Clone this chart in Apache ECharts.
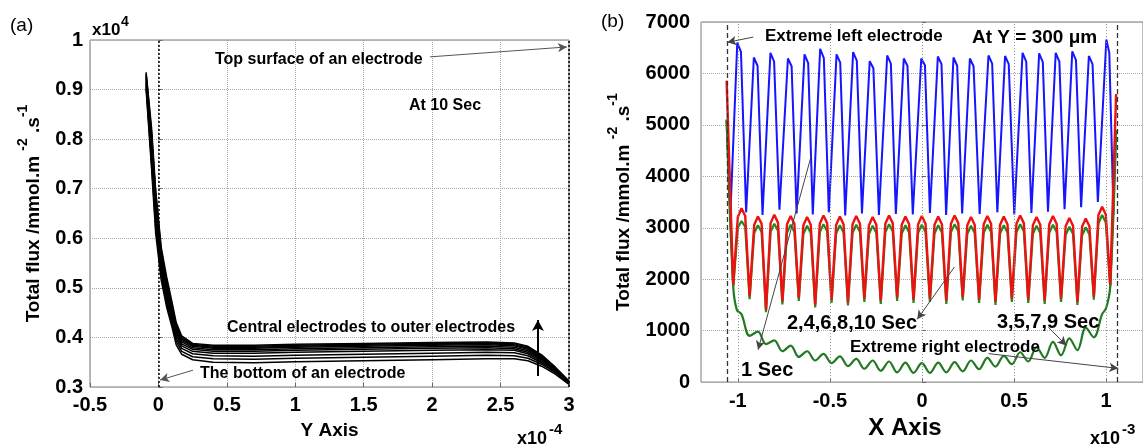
<!DOCTYPE html>
<html>
<head>
<meta charset="utf-8">
<title>Total flux</title>
<script src="https://cdn.jsdelivr.net/npm/echarts@6/dist/echarts.min.js"></script>
<style>
  html, body { margin: 0; padding: 0; background: #fff; }
  #chart { width: 1143px; height: 445px; }
</style>
</head>
<body>
<div id="chart"></div>
<script>
// ---------- Panel (a): total flux along Y (x1e-4 m) at 10 s, one curve per electrode ----------
const yPosition = [-0.09, -0.05, -0.02, 0.02, 0.06, 0.10, 0.13, 0.17, 0.25, 0.40, 0.70, 1.00, 1.50, 2.00, 2.40, 2.60, 2.70, 2.80, 2.90, 3.00];

// flux in units of 1e4 mmol m^-2 s^-1, central electrode first, outer electrodes last
const electrodeFlux01 = [0.900, 0.740, 0.610, 0.516, 0.461, 0.420, 0.385, 0.366, 0.355, 0.350, 0.349, 0.351, 0.353, 0.355, 0.357, 0.357, 0.353, 0.342, 0.326, 0.305];
const electrodeFlux02 = [0.905, 0.750, 0.622, 0.525, 0.468, 0.426, 0.392, 0.372, 0.361, 0.357, 0.356, 0.358, 0.360, 0.362, 0.364, 0.363, 0.358, 0.346, 0.329, 0.306];
const electrodeFlux03 = [0.910, 0.760, 0.634, 0.534, 0.475, 0.432, 0.398, 0.378, 0.367, 0.363, 0.362, 0.364, 0.366, 0.368, 0.370, 0.369, 0.363, 0.349, 0.331, 0.307];
const electrodeFlux04 = [0.914, 0.770, 0.645, 0.543, 0.482, 0.438, 0.404, 0.383, 0.372, 0.368, 0.368, 0.370, 0.372, 0.374, 0.375, 0.374, 0.367, 0.352, 0.333, 0.308];
const electrodeFlux05 = [0.918, 0.779, 0.655, 0.551, 0.488, 0.443, 0.409, 0.387, 0.376, 0.372, 0.372, 0.374, 0.376, 0.378, 0.379, 0.377, 0.370, 0.355, 0.334, 0.309];
const electrodeFlux06 = [0.922, 0.788, 0.665, 0.559, 0.494, 0.448, 0.413, 0.391, 0.379, 0.375, 0.375, 0.377, 0.379, 0.381, 0.382, 0.380, 0.373, 0.357, 0.336, 0.309];
const electrodeFlux07 = [0.926, 0.797, 0.674, 0.566, 0.500, 0.453, 0.417, 0.394, 0.382, 0.378, 0.378, 0.380, 0.382, 0.384, 0.385, 0.383, 0.376, 0.359, 0.337, 0.310];
const electrodeFlux08 = [0.929, 0.805, 0.682, 0.572, 0.508, 0.458, 0.421, 0.397, 0.384, 0.380, 0.380, 0.382, 0.384, 0.386, 0.387, 0.385, 0.378, 0.361, 0.338, 0.310];
const electrodeFlux09 = [0.932, 0.813, 0.690, 0.577, 0.515, 0.464, 0.425, 0.400, 0.386, 0.382, 0.382, 0.384, 0.386, 0.388, 0.389, 0.387, 0.380, 0.363, 0.339, 0.311];
const electrodeFlux10 = [0.935, 0.822, 0.697, 0.582, 0.522, 0.470, 0.430, 0.403, 0.388, 0.384, 0.384, 0.386, 0.388, 0.390, 0.391, 0.389, 0.382, 0.365, 0.340, 0.312];

// ---------- Panel (b): total flux along X (x1e-3 m) at Y = 300 um ----------
const xTicksB = [-1, -0.5, 0, 0.5, 1];
const electrodeEdgesB = [-1.063, 1.064];

// 1 s
const xBlue = [-1.060, -1.040,
  -1.003, -0.983, -0.955,  -0.913, -0.893, -0.866,  -0.823, -0.803, -0.774,  -0.728, -0.708, -0.681,
  -0.638, -0.618, -0.593,  -0.553, -0.533, -0.506,  -0.464, -0.444, -0.417,  -0.374, -0.354, -0.326,
  -0.284, -0.264, -0.234,  -0.189, -0.169, -0.142,  -0.099, -0.079, -0.050,  -0.004, 0.016, 0.043,
  0.086, 0.106, 0.131,  0.171, 0.191, 0.218,  0.260, 0.280, 0.313,  0.361, 0.381, 0.409,
  0.451, 0.471, 0.501,  0.546, 0.566, 0.594,  0.636, 0.656, 0.684,  0.726, 0.746, 0.774,
  0.816, 0.836, 0.864,  0.906, 0.926, 0.955,  1.001, 1.017, 1.040];
const flux1s = [5100, 3300,
  6600, 6420, 3300,  6310, 6150, 3250,  6400, 6230, 3350,  6290, 6140, 3280,
  6370, 6200, 3260,  6480, 6300, 3300,  6370, 6210, 3240,  6415, 6250, 3280,
  6240, 6100, 3250,  6350, 6190, 3270,  6290, 6150, 3260,  6290, 6160, 3290,
  6330, 6180, 3250,  6310, 6150, 3280,  6290, 6140, 3270,  6350, 6190, 3300,
  6340, 6180, 3260,  6400, 6230, 3290,  6390, 6220, 3310,  6400, 6230, 3360,
  6430, 6260, 3400,  6340, 6180, 3500,  6660, 6400, 3250];

// 2,4,6,8,10 s (red) and the upper odd-second trace (green) share sample positions
const xEvenOdd = [-1.061, -1.025,
  -1.000, -0.980, -0.960, -0.936,  -0.911, -0.891, -0.871, -0.847,  -0.822, -0.802, -0.782, -0.758,
  -0.733, -0.713, -0.693, -0.669,  -0.644, -0.624, -0.604, -0.580,  -0.555, -0.535, -0.515, -0.491,
  -0.466, -0.446, -0.426, -0.402,  -0.377, -0.357, -0.337, -0.313,  -0.288, -0.268, -0.248, -0.224,
  -0.199, -0.179, -0.159, -0.135,  -0.110, -0.090, -0.070, -0.046,  -0.021, -0.001, 0.019, 0.043,
  0.068, 0.088, 0.108, 0.132,  0.157, 0.177, 0.197, 0.221,  0.246, 0.266, 0.286, 0.310,
  0.335, 0.355, 0.375, 0.399,  0.424, 0.444, 0.464, 0.488,  0.513, 0.533, 0.553, 0.577,
  0.602, 0.622, 0.642, 0.666,  0.691, 0.711, 0.731, 0.755,  0.780, 0.800, 0.820, 0.844,
  0.869, 0.889, 0.909, 0.933,  0.958, 0.978, 0.998, 1.022,  1.054];
const fluxEven = [5860, 1890,
  3210, 3380, 3230, 1665,  3060, 3220, 3080, 1410,  3090, 3255, 3100, 1570,
  3070, 3230, 3080, 1635,  3050, 3210, 3060, 1505,  3080, 3240, 3090, 1600,
  3060, 3220, 3070, 1550,  3070, 3230, 3080, 1620,  3050, 3210, 3060, 1580,
  3080, 3240, 3090, 1640,  3060, 3220, 3070, 1600,  3070, 3230, 3080, 1620,
  3060, 3220, 3070, 1580,  3080, 3240, 3090, 1650,  3050, 3210, 3060, 1600,
  3070, 3230, 3080, 1560,  3060, 3220, 3070, 1620,  3080, 3240, 3090, 1600,
  3050, 3210, 3060, 1580,  3070, 3230, 3080, 1620,  3030, 3190, 3040, 1560,
  3020, 3180, 3030, 1660,  3250, 3410, 3260, 1890,  5600];
const fluxOddUpper = [5100, 1850,
  3000, 3130, 3020, 1610,  2900, 3050, 2920, 1360,  2920, 3080, 2940, 1510,
  2900, 3060, 2920, 1580,  2880, 3040, 2900, 1450,  2910, 3070, 2930, 1540,
  2890, 3050, 2910, 1490,  2900, 3060, 2920, 1560,  2880, 3040, 2900, 1520,
  2910, 3070, 2930, 1580,  2890, 3050, 2910, 1540,  2900, 3060, 2920, 1560,
  2890, 3050, 2910, 1520,  2910, 3070, 2930, 1590,  2880, 3040, 2900, 1540,
  2900, 3060, 2920, 1500,  2890, 3050, 2910, 1560,  2910, 3070, 2930, 1540,
  2880, 3040, 2900, 1520,  2900, 3060, 2920, 1560,  2860, 3020, 2880, 1500,
  2850, 3010, 2870, 1600,  3080, 3250, 3100, 1855,  4900];

// 3,5,7,9 s (lower wavy green trace)
const xOddLower = [-1.061, -1.025, -1.005, -0.980,
  -0.936, -0.891, -0.847, -0.802, -0.758, -0.713, -0.669, -0.624, -0.580, -0.535,
  -0.491, -0.446, -0.402, -0.357, -0.313, -0.268, -0.224, -0.179, -0.135, -0.090,
  -0.046, -0.001, 0.043, 0.088, 0.132, 0.177, 0.221, 0.266, 0.310, 0.355,
  0.399, 0.444, 0.488, 0.533, 0.577, 0.622, 0.666, 0.711, 0.755, 0.800,
  0.844, 0.889, 0.933, 0.978, 1.000, 1.022, 1.054];
const fluxOddLower = [5100, 1850, 1400, 1320,
  900, 980, 740, 810, 600, 710, 490, 600, 420, 550,
  370, 500, 310, 450, 260, 420, 220, 400, 190, 380,
  180, 370, 180, 380, 190, 390, 210, 420, 250, 470,
  300, 510, 350, 580, 400, 680, 470, 780, 520, 850,
  620, 1060, 870, 1320, 1440, 1855, 4900];

// ---------- helpers ----------
const FONT = "'Liberation Sans', Arial, Helvetica, sans-serif";
const pairs = (xs, ys) => xs.map((x, i) => [x, ys[i]]);

const fluxNameRich = {
  b: { fontFamily: FONT, fontWeight: 'bold', fontSize: 19, lineHeight: 27, verticalAlign: 'bottom', color: '#000' },
  s: { fontFamily: FONT, fontWeight: 'bold', fontSize: 14, lineHeight: 14, verticalAlign: 'top', color: '#000' }
};
const fluxName = '{b|Total flux /mmol.m }{s|-2}{b| .s}{s|-1}';

const GRID_LINE_STYLE = { color: '#a8a8a8', type: 'dotted', width: 1 };
const X_GRID_LINE_STYLE = { color: '#8c8c8c', type: [1, 2], width: 1 };
const EDGE_LINE_STYLE = { color: '#333', width: 1.3, type: [5, 3] };
const gridLine = () => ({ show: true, lineStyle: Object.assign({}, GRID_LINE_STYLE) });
const tickStyle = () => ({ show: true, inside: true, length: 4, lineStyle: { color: '#666', width: 1 } });
const tickLabel = (margin) => ({ fontFamily: FONT, fontWeight: 'bold', fontSize: 20, color: '#000', margin });

const arrowLine = (from, to, color, width) => [
  { coord: from, lineStyle: { color, width, type: 'solid' } },
  { coord: to }
];

const curvesA = [electrodeFlux01, electrodeFlux02, electrodeFlux03, electrodeFlux04, electrodeFlux05,
                 electrodeFlux06, electrodeFlux07, electrodeFlux08, electrodeFlux09, electrodeFlux10];

const seriesA = curvesA.map((vals, i) => {
  const s = {
    type: 'line', xAxisIndex: 0, yAxisIndex: 0,
    data: pairs(yPosition, vals),
    symbol: 'none', silent: true,
    lineStyle: { color: '#000', width: 1.5 },
    z: 3
  };
  if (i === 0) {
    s.markLine = {
      silent: true, symbol: 'none', label: { show: false },
      lineStyle: { color: '#000', width: 1.5, type: [2, 2] },
      data: [{ xAxis: 0 }, { xAxis: 3 }]
    };
  }
  if (i === 1) {
    s.markLine = {
      silent: true, symbol: ['none', 'arrow'], symbolSize: [7, 9], label: { show: false },
      lineStyle: { color: '#555', width: 1, type: 'solid' },
      data: [
        arrowLine([1.985, 0.966], [2.985, 0.986], '#555', 1),
        arrowLine([0.253, 0.334], [0.012, 0.314], '#555', 1)
      ]
    };
  }
  if (i === 2) {
    s.markLine = {
      silent: true, symbol: ['none', 'arrow'], symbolSize: [9, 11], label: { show: false },
      lineStyle: { color: '#000', width: 2, type: 'solid' },
      data: [arrowLine([2.773, 0.322], [2.773, 0.435], '#000', 2)]
    };
  }
  return s;
});

const seriesB = [
  {
    name: '1 Sec', type: 'line', xAxisIndex: 1, yAxisIndex: 1,
    data: pairs(xBlue, flux1s), symbol: 'none', silent: true,
    lineStyle: { color: '#1515ff', width: 2 }, z: 3,
    markLine: {
      silent: true, symbol: 'none', label: { show: false },
      data: xTicksB.map((v) => ({ xAxis: v, lineStyle: Object.assign({}, X_GRID_LINE_STYLE) }))
        .concat(electrodeEdgesB.map((v) => ({ xAxis: v, lineStyle: Object.assign({}, EDGE_LINE_STYLE) })))
    }
  },
  {
    name: '3,5,7,9 Sec lower', type: 'line', xAxisIndex: 1, yAxisIndex: 1,
    data: pairs(xOddLower, fluxOddLower), symbol: 'none', silent: true, smooth: 0.35,
    lineStyle: { color: '#217a21', width: 2.2 }, z: 3,
    markLine: {
      silent: true, symbol: ['none', 'arrow'], symbolSize: [7, 9], label: { show: false },
      lineStyle: { color: '#444', width: 1, type: 'solid' },
      data: [
        arrowLine([-0.916, 6707], [-1.057, 6604], '#444', 1),
        arrowLine([-0.599, 4430], [-0.890, 629], '#444', 1),
        arrowLine([0.176, 2237], [-0.026, 1220], '#444', 1),
        arrowLine([0.687, 1062], [0.784, 711], '#444', 1),
        arrowLine([0.361, 553], [1.066, 267], '#444', 1)
      ]
    }
  },
  {
    name: '3,5,7,9 Sec upper', type: 'line', xAxisIndex: 1, yAxisIndex: 1,
    data: pairs(xEvenOdd, fluxOddUpper), symbol: 'none', silent: true,
    lineStyle: { color: '#1f8c1f', width: 2.2 }, z: 3
  },
  {
    name: '2,4,6,8,10 Sec', type: 'line', xAxisIndex: 1, yAxisIndex: 1,
    data: pairs(xEvenOdd, fluxEven), symbol: 'none', silent: true,
    lineStyle: { color: '#ee1111', width: 2.4 }, z: 3
  }
];

// annotation text
const txt = (text, x, y, size, weight) => ({
  type: 'text', x, y, silent: true, z: 10,
  style: {
    text, fill: '#000', align: 'left', verticalAlign: 'middle',
    font: (weight || 'bold') + ' ' + size + 'px ' + FONT
  }
});

const graphics = [
  txt('(a)', 10, 26, 19, 'normal'),
  txt('(b)', 601, 22, 19, 'normal'),
  txt('x10', 92, 30, 17), txt('4', 121, 22, 14),
  txt('x10', 517, 439, 18), txt('-4', 549, 430, 15),
  txt('x10', 1090, 439, 18), txt('-3', 1122, 430, 15),
  txt('Top surface of an electrode', 215, 60, 16),
  txt('At 10 Sec', 409, 106, 16),
  txt('Central electrodes to outer electrodes', 227, 328, 16),
  txt('The bottom of an electrode', 200, 374, 16),
  txt('Extreme left electrode', 765, 36, 17),
  txt('At Y = 300 \u03bcm', 972, 38, 19),
  txt('1 Sec', 741, 370, 20),
  txt('2,4,6,8,10 Sec', 787, 323, 20),
  txt('3,5,7,9 Sec', 997, 322, 20),
  txt('Extreme right electrode', 850, 347, 17)
];

const option = {
  animation: false,
  backgroundColor: '#fff',
  grid: [
    { left: 90, top: 40, width: 479, height: 347, show: true, borderColor: '#7a7a7a', borderWidth: 1, backgroundColor: 'rgba(0,0,0,0)', z: 0 },
    { left: 701, top: 22, width: 454, height: 367, show: true, borderColor: '#7a7a7a', borderWidth: 1, backgroundColor: 'rgba(0,0,0,0)', z: 0 }
  ],
  xAxis: [
    {
      gridIndex: 0, type: 'value', min: -0.5, max: 3, interval: 0.5, z: 2,
      name: 'Y Axis', nameLocation: 'middle', nameGap: 34,
      nameTextStyle: { fontFamily: FONT, fontWeight: 'bold', fontSize: 19, color: '#000' },
      axisLine: { show: false }, axisTick: tickStyle(),
      axisLabel: tickLabel(8), splitLine: gridLine()
    },
    {
      gridIndex: 1, type: 'value', min: -1.2, max: 1.2, z: 2,
      name: 'X Axis', nameLocation: 'middle', nameGap: 25,
      nameTextStyle: { fontFamily: FONT, fontWeight: 'bold', fontSize: 24, color: '#000', padding: [0, 34, 0, 0] },
      axisLine: { show: false },
      axisTick: Object.assign(tickStyle(), { customValues: xTicksB }),
      axisLabel: Object.assign(tickLabel(9), { customValues: xTicksB }),
      splitLine: { show: false }
    }
  ],
  yAxis: [
    {
      gridIndex: 0, type: 'value', min: 0.3, max: 1, interval: 0.1, z: 2,
      name: fluxName, nameLocation: 'middle', nameGap: 47,
      nameTextStyle: { rich: fluxNameRich },
      axisLine: { show: false }, axisTick: tickStyle(),
      axisLabel: tickLabel(7), splitLine: gridLine()
    },
    {
      gridIndex: 1, type: 'value', min: 0, max: 7000, interval: 1000, z: 2,
      name: fluxName, nameLocation: 'middle', nameGap: 68,
      nameTextStyle: { rich: fluxNameRich },
      axisLine: { show: false }, axisTick: tickStyle(),
      axisLabel: Object.assign(tickLabel(11), { formatter: (v) => String(v) }),
      splitLine: gridLine()
    }
  ],
  series: seriesA.concat(seriesB),
  graphic: graphics
};

const chart = echarts.init(document.getElementById('chart'), null, { renderer: 'canvas' });
chart.setOption(option);
</script>
</body>
</html>
